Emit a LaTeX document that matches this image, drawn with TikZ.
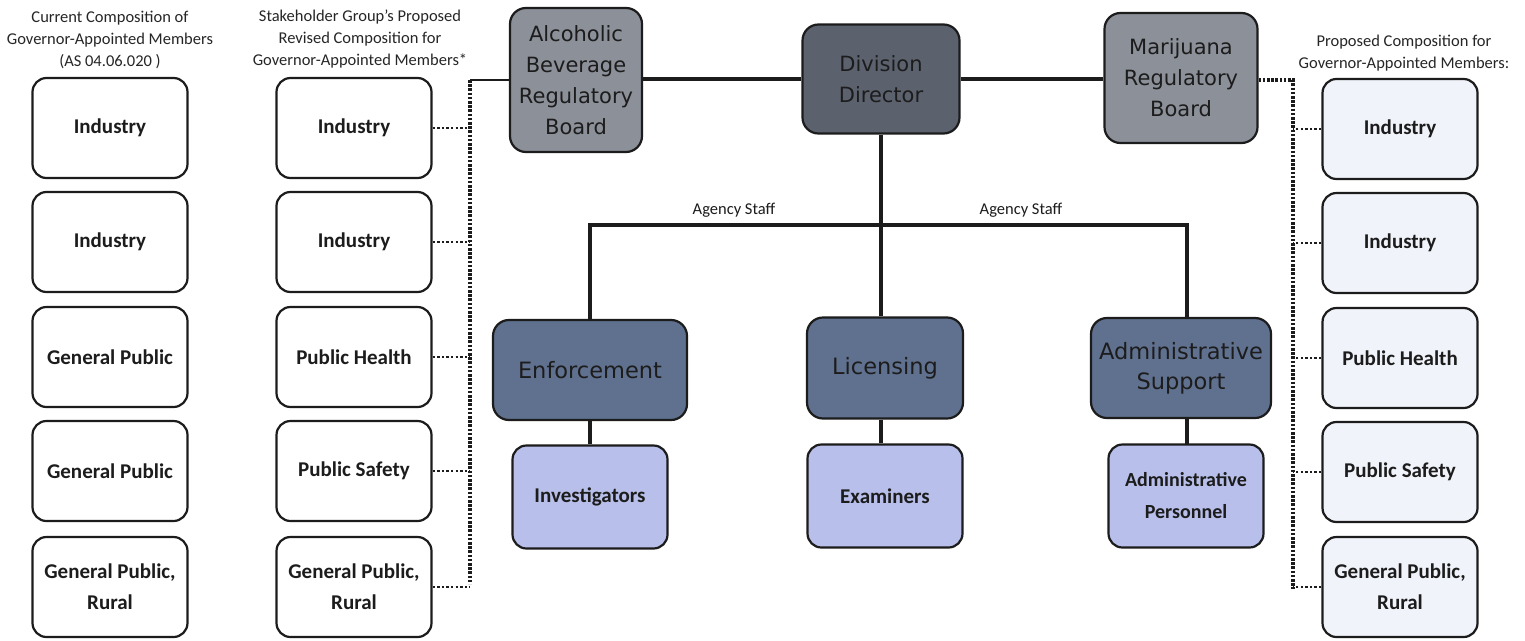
\documentclass[tikz,border=0pt]{standalone}
\usepackage{fontspec}
\setmainfont{Carlito}
\newfontfamily\vfont{DejaVu Sans}
\definecolor{boardgray}{HTML}{8C9099}
\definecolor{dirgray}{HTML}{5B626E}
\definecolor{unitblue}{HTML}{60718F}
\definecolor{staffblue}{HTML}{B7BFEA}
\definecolor{paleblue}{HTML}{F1F3FA}
\definecolor{ink}{HTML}{1C1C1C}
\begin{document}
\begin{tikzpicture}[x=1pt,y=-1pt,
  member/.style={draw=ink, line width=2.2pt, rounded corners=14pt, minimum width=155pt, minimum height=100pt, align=center, inner sep=0pt, text=ink, font=\bfseries\fontsize{21}{31}\selectfont},
  board/.style={draw=ink, line width=2.2pt, rounded corners=16pt, align=center, inner sep=0pt, text=ink, font=\vfont\fontsize{21}{31}\selectfont},
  unit/.style={board, fill=unitblue, font=\vfont\fontsize{22.5}{30}\selectfont},
  staff/.style={draw=ink, line width=2.2pt, rounded corners=14pt, fill=staffblue, minimum width=155pt, minimum height=103pt, align=center, inner sep=0pt, text=ink, font=\bfseries\fontsize{21}{32}\selectfont},
  hdr/.style={align=center, inner sep=0pt, text=black!85, font=\fontsize{16.5}{22}\selectfont},
  solidline/.style={draw=ink, line width=4pt},
  dotline/.style={draw=ink, line width=2.6pt, dash pattern=on 2.4pt off 2.2pt},
  vdotline/.style={draw=ink, line width=3.4pt, dash pattern=on 2.6pt off 1.6pt}
]
\useasboundingbox (0,0) rectangle (1525,640);
\fill[white] (0,0) rectangle (1525,640);

% headers
\node[hdr] (h1) at (110,40) {Current Composition of\\Governor-Appointed Members\\(AS 04.06.020 )};
\node[hdr] (h2) at (360,39) {Stakeholder Group’s Proposed\\Revised Composition for\\Governor-Appointed Members*};
\node[hdr] (h4) at (1404,53) {Proposed Composition for\\Governor-Appointed Members:};

% column 1
\node[member] (a1) at (110,128) {Industry};
\node[member] (a2) at (110,242) {Industry};
\node[member] (a3) at (110,357) {General Public};
\node[member] (a4) at (110,471) {General Public};
\node[member] (a5) at (110,587) {General Public,\\Rural};

% column 2
\node[member] (b1) at (354,128) {Industry};
\node[member] (b2) at (354,242) {Industry};
\node[member] (b3) at (354,357) {Public Health};
\node[member] (b4) at (354,471) {Public Safety};
\node[member] (b5) at (354,587) {General Public,\\Rural};

% column 4
\node[member, fill=paleblue] (c1) at (1400,129) {Industry};
\node[member, fill=paleblue] (c2) at (1400,243) {Industry};
\node[member, fill=paleblue] (c3) at (1400,358) {Public Health};
\node[member, fill=paleblue] (c4) at (1400,472) {Public Safety};
\node[member, fill=paleblue] (c5) at (1400,587) {General Public,\\Rural};

% boards and director
\node[board, fill=boardgray, minimum width=132pt, minimum height=144pt] (abrb) at (576,80) {Alcoholic\\Beverage\\Regulatory\\Board};
\node[board, fill=dirgray, minimum width=157pt, minimum height=109pt] (dd) at (881,79) {Division\\Director};
\node[board, fill=boardgray, minimum width=153pt, minimum height=130pt] (mrb) at (1181,78) {Marijuana\\Regulatory\\Board};

% units
\node[unit, minimum width=194pt, minimum height=100pt] (enf) at (590,370) {Enforcement};
\node[unit, minimum width=156pt, minimum height=101pt] (lic) at (885,368) {Licensing};
\node[unit, minimum width=180pt, minimum height=100pt] (adm) at (1181,368) {Administrative\\Support};

% staff
\node[staff] (inv) at (590,497) {Investigators};
\node[staff] (exa) at (885,496) {Examiners};
\node[staff, font=\bfseries\fontsize{20}{32}\selectfont] (adp) at (1186,496) {Administrative\\Personnel};

% solid connectors
\draw[solidline] (abrb.east |- dd.west) -- (dd.west);
\draw[solidline] (dd.east) -- (mrb.west |- dd.east);
\coordinate (bus) at (881,225);
\draw[solidline] (dd.south) -- (dd.south |- lic.north);
\draw[solidline] (enf.north) |- (bus) -| (1187,318);
\draw[solidline] (enf.south) -- (inv.north);
\draw[solidline] (lic.south -| dd.south) -- (exa.north -| dd.south);
\draw[solidline] (1187,418) -- (1187,444);

% labels
\node[inner sep=0pt, text=ink, font=\fontsize{16.5}{18}\selectfont] (ag1) at (734,210) {Agency Staff};
\node[inner sep=0pt, text=ink, font=\fontsize{16.5}{18}\selectfont] (ag2) at (1021,210) {Agency Staff};

% left dotted bracket
\coordinate (lt) at (470,80);
\coordinate (lb) at (470,584);
\draw[draw=ink, line width=2.8pt] (abrb.west |- lt) -- (lt);
\draw[vdotline] (lt) -- (lb);
\draw[dotline] (b1.east) -- (b1.east -| lt);
\draw[dotline] (b2.east) -- (b2.east -| lt);
\draw[dotline] (b3.east) -- (b3.east -| lt);
\draw[dotline] (b4.east) -- (b4.east -| lt);
\draw[dotline] (b5.east) -- (b5.east -| lt);

% right dotted bracket
\coordinate (rt) at (1293,80);
\coordinate (rb) at (1293,589);
\draw[vdotline] (mrb.east |- rt) -- (rt) -- (rb);
\draw[dotline] (c1.west) -- (c1.west -| rt);
\draw[dotline] (c2.west) -- (c2.west -| rt);
\draw[dotline] (c3.west) -- (c3.west -| rt);
\draw[dotline] (c4.west) -- (c4.west -| rt);
\draw[dotline] (c5.west) -- (c5.west -| rt);
\end{tikzpicture}
\end{document}
